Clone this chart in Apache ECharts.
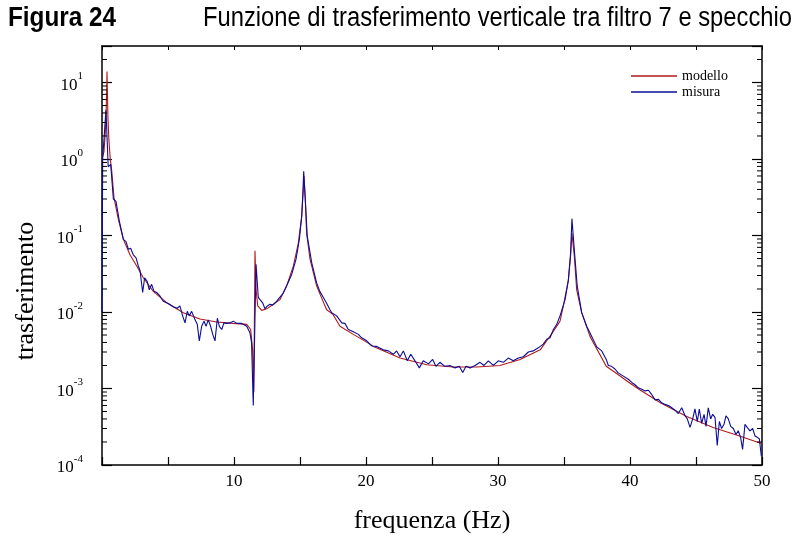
<!DOCTYPE html>
<html><head><meta charset="utf-8">
<script src="https://cdn.jsdelivr.net/npm/echarts@6/dist/echarts.min.js"></script>
<style>html,body{margin:0;padding:0;background:#fff}#c{width:798px;height:539px}</style>
</head><body><div id="c"></div>
<script>
// ---- data ----
const modelloFreq = [0.0,0.15,0.25,0.32,0.36,0.38,0.40,0.45,0.52,0.63,0.73,0.91,1.24,1.62,2.12,2.63,3.13,3.89,4.9,6.16,7.42,8.69,9.95,10.96,11.26,11.41,11.5,11.59,11.67,11.8,12.1,12.48,12.98,13.48,13.99,14.5,14.87,15.13,15.25,15.3,15.4,15.5,15.76,16.26,16.5,17.02,17.5,18.03,19.04,20.3,20.56,22.58,24.6,26.6,28.4,30.15,31.67,33.2,34.2,34.7,34.95,35.33,35.5,35.6,35.68,35.78,35.96,36.34,36.97,38.2,39.2,40.0,40.8,42.3,44.3,46.3,48.3,50.0];
const modelloVal = [1.0,1.25,2.2,4.5,9,13.9,9,3.5,1.8,0.98,0.72,0.31,0.162,0.089,0.056,0.040,0.028,0.0186,0.0132,0.0098,0.0081,0.0074,0.0071,0.0069,0.0059,0.0032,0.0009,0.063,0.0196,0.012,0.0105,0.011,0.0126,0.0145,0.022,0.040,0.079,0.178,0.40,0.60,0.30,0.107,0.049,0.022,0.0174,0.0107,0.0093,0.0065,0.0051,0.0038,0.00355,0.00251,0.00204,0.00191,0.00191,0.0020,0.0024,0.0032,0.0056,0.0076,0.012,0.026,0.054,0.107,0.113,0.054,0.0195,0.0098,0.0048,0.00195,0.00148,0.00117,0.00095,0.00065,0.00043,0.00031,0.00024,0.00019];

const misuraFreq = [0.0,0.05,0.3,0.47,0.66,0.86,1.06,1.31,1.62,1.82,2.0,2.17,2.37,2.58,2.75,2.88,3.08,3.23,3.43,3.58,3.76,3.94,4.14,4.39,4.64,5.02,5.4,5.7,5.9,6.11,6.29,6.46,6.61,6.79,7.05,7.22,7.37,7.55,7.73,7.88,8.05,8.23,8.39,8.56,8.74,8.89,9.07,9.24,9.45,9.7,9.95,10.2,10.58,10.96,11.2,11.33,11.46,11.67,11.84,11.97,12.17,12.35,12.53,12.73,12.93,13.23,13.56,13.74,13.99,14.37,14.7,14.95,15.13,15.23,15.28,15.33,15.4,15.55,15.89,16.26,16.5,16.77,17.0,17.27,17.4,17.78,18.16,18.4,18.66,19.04,19.42,19.67,20.05,20.43,20.81,21.31,21.69,22.07,22.32,22.58,22.83,23.13,23.39,23.71,24.04,24.34,24.73,25.05,25.3,25.6,25.98,26.36,26.74,27.07,27.33,27.58,27.88,28.26,28.64,28.94,29.27,29.65,30.02,30.4,30.78,31.16,31.54,31.92,32.3,32.67,33.05,33.43,33.69,33.94,34.2,34.45,34.7,35.08,35.33,35.5,35.6,35.7,35.8,36.0,36.34,36.72,37.1,37.48,37.86,38.2,38.36,38.6,38.86,39.1,39.5,39.87,40.13,40.38,40.63,40.89,41.14,41.4,41.65,41.9,42.16,42.4,42.65,42.98,43.16,43.41,43.66,43.92,44.17,44.34,44.55,44.75,44.92,45.1,45.25,45.43,45.61,45.76,45.93,46.11,46.26,46.44,46.61,46.77,46.94,47.12,47.27,47.45,47.63,47.83,48.03,48.2,48.38,48.53,48.71,48.88,49.09,49.29,49.47,49.64,49.8,49.95];
const misuraVal = [0.01,1.0,4.4,0.79,0.85,0.30,0.28,0.155,0.089,0.083,0.066,0.068,0.056,0.051,0.040,0.035,0.018,0.028,0.025,0.0195,0.023,0.0186,0.018,0.0162,0.0138,0.0129,0.0117,0.0112,0.012,0.0089,0.0072,0.0102,0.0089,0.0102,0.0079,0.0069,0.0042,0.0065,0.0076,0.0065,0.0079,0.0065,0.0051,0.0042,0.0083,0.0065,0.0059,0.0072,0.0071,0.0072,0.0076,0.0071,0.0071,0.0065,0.0054,0.0040,0.0006,0.042,0.0155,0.0145,0.0132,0.011,0.012,0.0126,0.0123,0.0138,0.0162,0.0178,0.022,0.031,0.049,0.089,0.178,0.40,0.69,0.69,0.295,0.098,0.044,0.024,0.0186,0.0155,0.0132,0.0107,0.0098,0.0089,0.0072,0.0071,0.0059,0.0055,0.0051,0.0046,0.0042,0.0036,0.00355,0.0032,0.0031,0.0028,0.0031,0.0026,0.0031,0.0023,0.0028,0.0023,0.00186,0.0023,0.0021,0.0024,0.00195,0.0022,0.00195,0.0020,0.00186,0.00195,0.00162,0.00195,0.00186,0.0020,0.0022,0.0020,0.0023,0.0020,0.0023,0.0022,0.0025,0.0023,0.0025,0.0026,0.0030,0.0031,0.0034,0.0038,0.0044,0.0046,0.0059,0.0069,0.0089,0.0145,0.026,0.059,0.166,0.166,0.059,0.022,0.0098,0.0065,0.0048,0.0035,0.0031,0.0024,0.0020,0.00195,0.0018,0.0016,0.00145,0.00132,0.0012,0.00112,0.00102,0.00098,0.00093,0.00095,0.00083,0.00071,0.00072,0.00065,0.00062,0.00059,0.00056,0.00052,0.00047,0.00056,0.00044,0.0004,0.00031,0.0004,0.00054,0.00037,0.00054,0.00035,0.00046,0.00032,0.00056,0.0004,0.00046,0.00042,0.00018,0.00037,0.0003,0.00034,0.00044,0.0004,0.00032,0.0003,0.00025,0.00028,0.00023,0.00016,0.00034,0.00031,0.00028,0.0003,0.00024,0.00023,0.00022,0.00013];

const seriesNames = ['modello', 'misura'];
const figureLabel = 'Figura 24';
const figureTitle = 'Funzione di trasferimento verticale tra filtro 7 e specchio';
const xLabelValues = [10, 20, 30, 40, 50];
const yDecades = [0.0001, 0.001, 0.01, 0.1, 1, 10];
const yMantissas = [2, 3, 4, 5, 6, 7, 8, 9];

// ---- chart ----
const serif = "'Liberation Serif','Times New Roman',serif";
const sans = "'Liberation Sans',Arial,sans-serif";
const X_MIN = 0, X_MAX = 50, Y_MIN = 0.0001, Y_MAX = 30;

const minorTicks = [];
yDecades.forEach(d => yMantissas.forEach(m => { const v = d * m; if (v < Y_MAX) minorTicks.push([X_MIN, v]); }));

const zip = (a, b) => a.map((x, i) => [x, b[i]]);

const chart = echarts.init(document.getElementById('c'), null, {renderer: 'canvas'});
const axisLineStyle = {color: '#000', width: 1.5};
chart.setOption({
  animation: false,
  backgroundColor: '#fff',
  legend: {
    data: seriesNames, orient: 'vertical', left: 626, top: 63, icon: 'rect',
    itemWidth: 46, itemHeight: 1.5, itemGap: 0,
    textStyle: {fontFamily: serif, fontSize: 14, color: '#000', lineHeight: 16}
  },
  grid: {left: 102, right: 36, top: 46, bottom: 73},
  graphic: [
    {type: 'text', x: 8, y: 19, scaleX: 0.9,
     style: {text: figureLabel, font: 'bold 27px ' + sans, fill: '#000', align: 'left', verticalAlign: 'middle'}},
    {type: 'text', x: 203, y: 19, scaleX: 0.88,
     style: {text: figureTitle, font: '27px ' + sans, fill: '#000', align: 'left', verticalAlign: 'middle'}},
    {type: 'text', x: 26, y: 291, rotation: Math.PI / 2,
     style: {text: 'trasferimento', font: '26px ' + serif, fill: '#000', align: 'center', verticalAlign: 'middle'}}
  ],
  xAxis: [
    {type: 'value', min: X_MIN, max: X_MAX, interval: 5, position: 'bottom',
     name: 'frequenza (Hz)', nameLocation: 'middle', nameGap: 43,
     nameTextStyle: {fontFamily: serif, fontSize: 26, color: '#000'},
     axisLine: {show: true, onZero: false, lineStyle: axisLineStyle},
     axisTick: {inside: true, length: 8, lineStyle: {color: '#000', width: 1.2}},
     axisLabel: {margin: 8, fontFamily: serif, fontSize: 17, color: '#000',
       formatter: v => xLabelValues.indexOf(v) >= 0 ? String(v) : ''},
     splitLine: {show: false}},
    {type: 'value', min: X_MIN, max: X_MAX, interval: 5, position: 'top',
     axisLine: {show: true, onZero: false, lineStyle: axisLineStyle},
     axisTick: {inside: true, length: 4, lineStyle: {color: '#000', width: 1}},
     axisLabel: {show: false}, splitLine: {show: false}}
  ],
  yAxis: [
    {type: 'log', logBase: 10, min: Y_MIN, max: Y_MAX, position: 'left',
     axisLine: {show: true, onZero: false, lineStyle: axisLineStyle},
     axisTick: {inside: true, length: 10, lineStyle: {color: '#000', width: 1.2}},
     axisLabel: {margin: 19, color: '#000',
       formatter: v => { const e = Math.log10(v); const r = Math.round(e);
         return Math.abs(e - r) < 1e-6 ? '{b|10}{s|' + r + '}' : ''; },
       rich: {b: {fontFamily: serif, fontSize: 17, color: '#000', padding: [6, 0, 0, 0]},
              s: {fontFamily: serif, fontSize: 11, color: '#000', verticalAlign: 'top'}}},
     splitLine: {show: false}},
    {type: 'log', logBase: 10, min: Y_MIN, max: Y_MAX, position: 'right',
     axisLine: {show: true, onZero: false, lineStyle: axisLineStyle},
     axisTick: {inside: true, length: 10, lineStyle: {color: '#000', width: 1.2}},
     axisLabel: {show: false}, splitLine: {show: false}}
  ],
  series: [
    {name: 'modello', type: 'line', data: zip(modelloFreq, modelloVal), showSymbol: false, symbol: 'none',
     lineStyle: {color: '#b01818', width: 1.1}, itemStyle: {color: '#b01818'}, z: 3},
    {name: 'misura', type: 'line', data: zip(misuraFreq, misuraVal), showSymbol: false, symbol: 'none',
     lineStyle: {color: '#0c0c98', width: 1.1}, itemStyle: {color: '#0c0c98'}, z: 4},
    {type: 'custom', silent: true, data: minorTicks, z: 5,
     renderItem: (params, api) => {
       const v = api.value(1);
       const l = api.coord([X_MIN, v]), r = api.coord([X_MAX, v]);
       return {type: 'group', children: [
         {type: 'line', shape: {x1: l[0], y1: l[1], x2: l[0] + 5, y2: l[1]}, style: {stroke: '#000', lineWidth: 1}},
         {type: 'line', shape: {x1: r[0], y1: r[1], x2: r[0] - 5, y2: r[1]}, style: {stroke: '#000', lineWidth: 1}}
       ]};
     }}
  ]
});
</script></body></html>
